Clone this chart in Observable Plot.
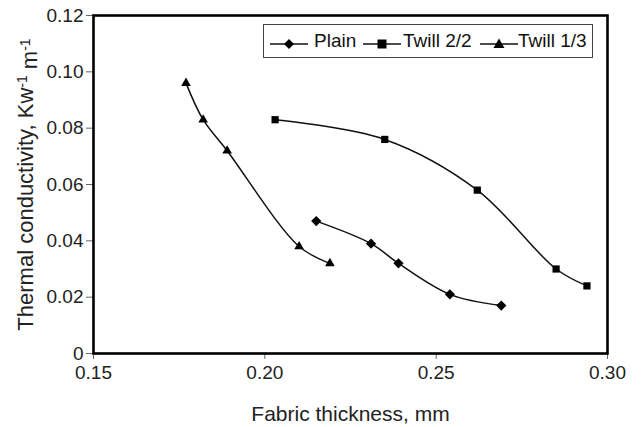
<!DOCTYPE html>
<html>
<head>
<meta charset="utf-8">
<script src="https://cdn.jsdelivr.net/npm/d3@7"></script>
<script src="https://cdn.jsdelivr.net/npm/@observablehq/plot@0.6"></script>
<style>
  html, body { margin: 0; padding: 0; background: #fff; }
  #wrap { position: relative; width: 642px; height: 427px; font-family: "Liberation Sans", Arial, sans-serif; }
  #wrap svg g[aria-label="x-axis tick label"], #wrap svg g[aria-label="y-axis tick label"] { font-size: 19px; fill: #222; }
  #wrap svg g[aria-label="x-axis label"] { font-size: 21px; fill: #222; }
  #wrap svg g[aria-label="y-axis label"] { font-size: 22px; fill: #222; }
  #legend { position: absolute; left: 263px; top: 24px; width: 330px; height: 34px; border: 1px solid #444; box-sizing: border-box;
            background: #fff; font-size: 19px; color: #111; }
  #legend .sample { position: absolute; top: 9px; display: block; }
  #legend .lab { position: absolute; top: 6px; line-height: 20px; white-space: nowrap; }
</style>
</head>
<body>
<div id="wrap"></div>
<script>
const seriesNames = ["Plain", "Twill 2/2", "Twill 1/3"];
const symbols = ["diamond2", "square2", "triangle2"];

const plainX = [0.215, 0.231, 0.239, 0.254, 0.269];
const plainY = [0.047, 0.039, 0.032, 0.021, 0.017];

const twill22X = [0.203, 0.235, 0.262, 0.285, 0.294];
const twill22Y = [0.083, 0.076, 0.058, 0.030, 0.024];

const twill13X = [0.177, 0.182, 0.189, 0.210, 0.219];
const twill13Y = [0.096, 0.083, 0.072, 0.038, 0.032];

const xTicks = [0.15, 0.20, 0.25, 0.30];
const yTicks = [0, 0.02, 0.04, 0.06, 0.08, 0.10, 0.12];

const allX = [plainX, twill22X, twill13X];
const allY = [plainY, twill22Y, twill13Y];
const data = [];
seriesNames.forEach((s, i) => allX[i].forEach((x, j) => data.push({series: s, x, y: allY[i][j]})));

const chart = Plot.plot({
  width: 642,
  height: 427,
  marginLeft: 93,
  marginRight: 35,
  marginTop: 15,
  marginBottom: 74,
  style: { fontFamily: "Liberation Sans, Arial, sans-serif", fontSize: "19px", color: "#222", background: "#fff" },
  x: { domain: [0.15, 0.30] },
  y: { domain: [0, 0.12] },
  symbol: { domain: seriesNames, range: symbols },
  marks: [
    Plot.axisX({ ticks: xTicks, tickFormat: d3.format(".2f"), tickSize: 6, tickPadding: 6, fontSize: 19,
                 stroke: "#666", label: "Fabric thickness, mm", labelAnchor: "center", labelArrow: "none", labelOffset: 67 }),
    Plot.axisY({ ticks: yTicks, tickFormat: d => d === 0 ? "0" : d3.format(".2f")(d), tickSize: 7, tickPadding: 3, fontSize: 19,
                 stroke: "#666", label: "Thermal conductivity, Kw-1 m-1", labelAnchor: "center", labelArrow: "none", labelOffset: 76 }),
    Plot.line(data, { x: "x", y: "y", z: "series", stroke: "#111", strokeWidth: 1.5, curve: "catmull-rom" }),
    Plot.dot(data, { x: "x", y: "y", symbol: "series", fill: "#000", r: 4.6 }),
    Plot.frame({ stroke: "#000", strokeWidth: 2.6 })
  ]
});
const wrap = document.getElementById("wrap");
wrap.appendChild(chart);

// y-axis title with superscripts
const yt = d3.select(chart).select('g[aria-label="y-axis label"] text');
if (!yt.empty()) {
  yt.text(null);
  yt.append("tspan").text("Thermal conductivity, Kw");
  yt.append("tspan").attr("dy", "-0.45em").attr("font-size", "14px").text("-1");
  yt.append("tspan").attr("dy", "0.45em").text(" m");
  yt.append("tspan").attr("dy", "-0.45em").attr("font-size", "14px").text("-1");
}

// legend
const legend = document.createElement("div");
legend.id = "legend";
const symPaths = {
  "Plain": '<path d="M19,-5 L24,0 L19,5 L14,0 Z"/>',
  "Twill 2/2": '<rect x="14.5" y="-4.5" width="9" height="9"/>',
  "Twill 1/3": '<path d="M19,-5.5 L24.5,4 L13.5,4 Z"/>'
};
const sampleLeft = [6, 99, 216];
const labelLeft = [50, 139, 254];
seriesNames.forEach((s, i) => {
  const sv = document.createElement("div");
  sv.className = "sample";
  sv.style.left = sampleLeft[i] + "px";
  sv.innerHTML = `<svg width="38" height="14" viewBox="0 -7 38 14"><line x1="0" y1="0" x2="38" y2="0" stroke="#111" stroke-width="1.5"/><g fill="#000">${symPaths[s]}</g></svg>`;
  legend.appendChild(sv);
  const lb = document.createElement("span");
  lb.className = "lab";
  lb.style.left = labelLeft[i] + "px";
  lb.textContent = s;
  legend.appendChild(lb);
});
wrap.appendChild(legend);
</script>
</body>
</html>
